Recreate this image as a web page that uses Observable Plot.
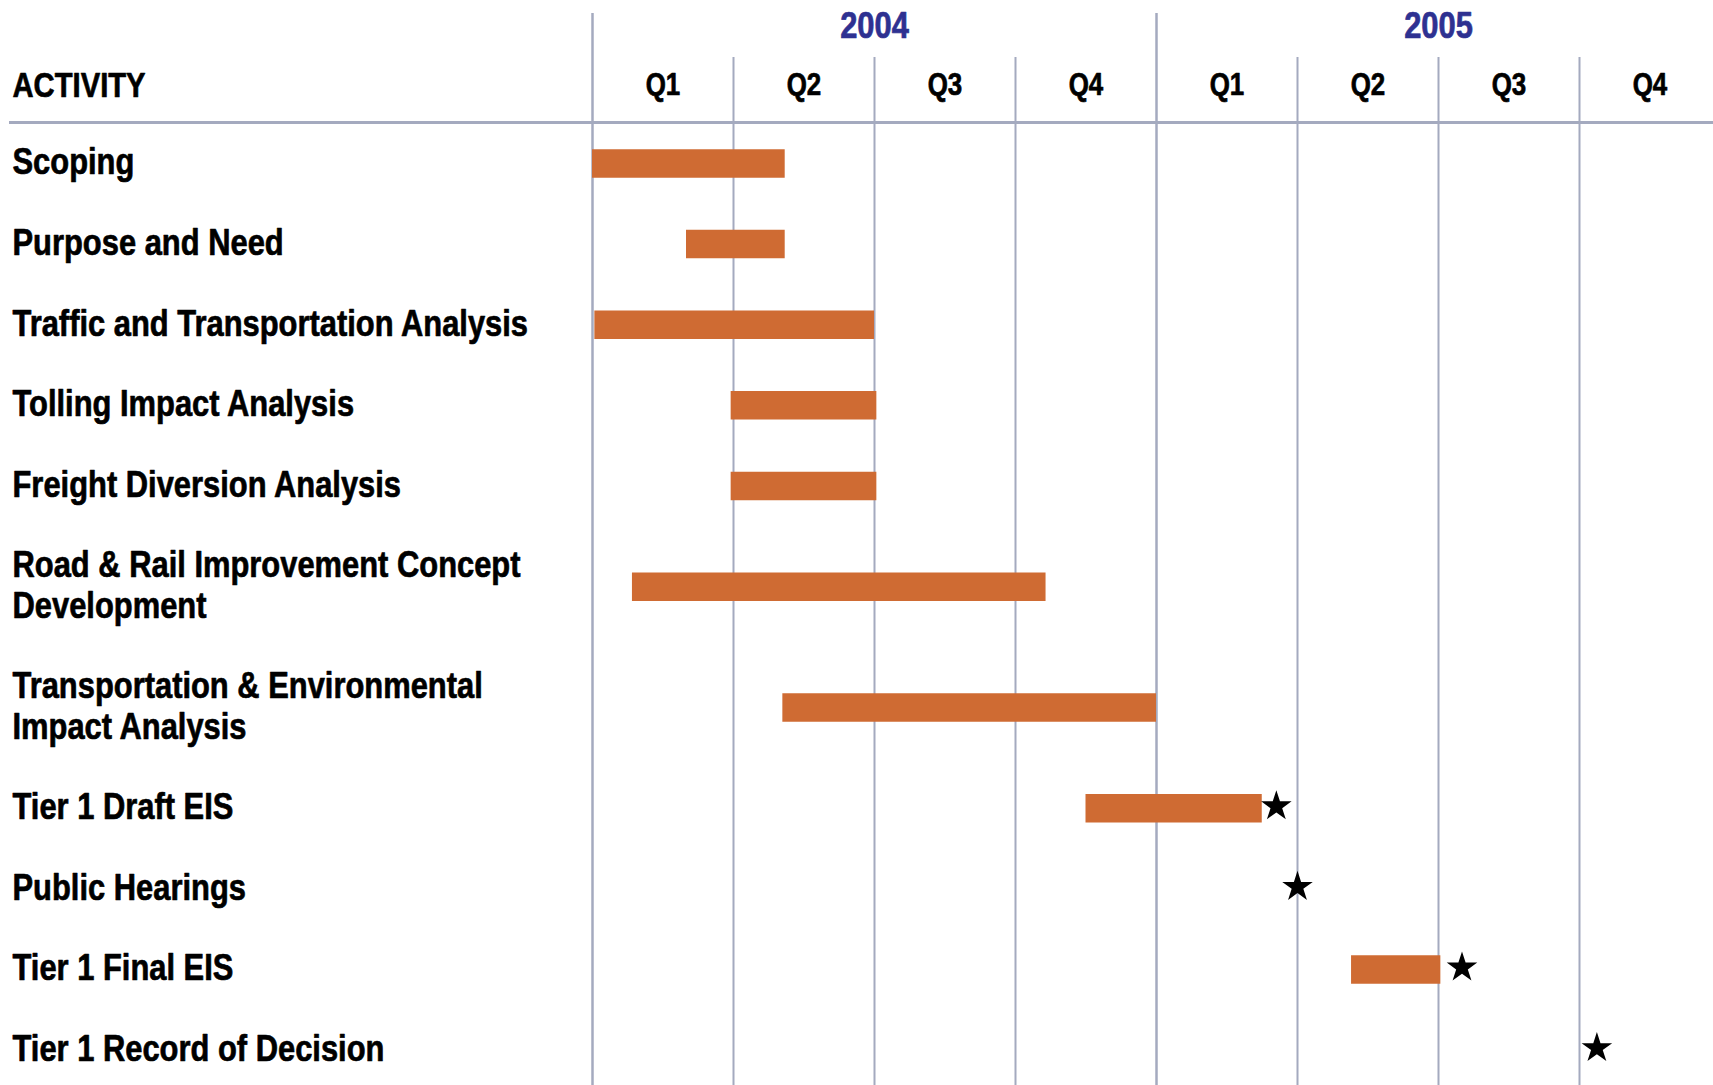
<!DOCTYPE html>
<html>
<head>
<meta charset="utf-8">
<script src="https://cdn.jsdelivr.net/npm/d3@7"></script>
<script src="https://cdn.jsdelivr.net/npm/@observablehq/plot@0.6"></script>
<style>
  html, body { margin: 0; padding: 0; background: #fff; }
  #chart svg { display: block; }
</style>
</head>
<body>
<div id="chart"></div>
<script>
// ---- data (months counted from January 2004) ----
const activities = [
  "Scoping",
  "Purpose and Need",
  "Traffic and Transportation Analysis",
  "Tolling Impact Analysis",
  "Freight Diversion Analysis",
  "Road & Rail Improvement Concept\nDevelopment",
  "Transportation & Environmental\nImpact Analysis",
  "Tier 1 Draft EIS",
  "Public Hearings",
  "Tier 1 Final EIS",
  "Tier 1 Record of Decision"
];
const startMonth     = [0,   2,   0.05, 2.95, 2.95, 0.85, 4.05, 10.5,  null, 16.15, null];
const endMonth       = [4.1, 4.1, 6,    6.05, 6.05, 9.65, 12,   14.25, null, 18.05, null];
const milestoneMonth = [null, null, null, null, null, null, null, 14.55, 15, 18.5, 21.37];
const years = ["2004", "2005"];
const quarterLabels = ["Q1", "Q2", "Q3", "Q4"];
const headerLabel = "ACTIVITY";

// ---- layout of rows derived from the number of label lines ----
let cursor = 0;
const rows = activities.map((label, i) => {
  const lines = label.split("\n").length;
  const row = {label, start: startMonth[i], end: endMonth[i], milestone: milestoneMonth[i], y: cursor + (lines - 1) * 0.25};
  cursor += 1 + (lines - 1) * 0.5;
  return row;
});
const lastRow = rows[rows.length - 1].y;

const quarters = years.flatMap((yr, yi) => quarterLabels.map((q, qi) => ({label: q, start: yi * 12 + qi * 3, mid: yi * 12 + qi * 3 + 1.5})));
const yearMarks = years.map((yr, yi) => ({label: yr, start: yi * 12, mid: yi * 12 + 6}));
yearMarks.push({label: "", start: years.length * 12, mid: null});

const FONT = "'Liberation Sans', Arial, Helvetica, sans-serif";
const CONDENSE = 0.835; // narrow (condensed) rendition of the bold sans
const GRID = "#a4aabf";
const BAR = "#cf6b33";
const NAVY = "#2e3191";

const chart = Plot.plot({
  width: 1713,
  height: 1085,
  marginTop: 122,
  marginBottom: 0,
  marginLeft: 592,
  marginRight: 0,
  x: {domain: [0, 24], range: [592, 1720], axis: null},
  y: {domain: [0, lastRow], range: [161, 161 + lastRow * 80.6], axis: null},
  style: {fontFamily: FONT, background: "#fff", color: "#000"},
  marks: [
    Plot.ruleX(quarters.filter(q => q.start % 12 !== 0), {x: "start", stroke: GRID, strokeWidth: 2, insetTop: -65}),
    Plot.ruleX(yearMarks, {x: "start", stroke: GRID, strokeWidth: 2.5, insetTop: -109}),
    Plot.frame({anchor: "top", stroke: GRID, strokeWidth: 3, insetLeft: -582}),
    Plot.text(yearMarks.filter(d => d.label), {x: "mid", text: "label", frameAnchor: "top", lineAnchor: "middle", textAnchor: "middle", dy: -96.5, fontSize: 37, fontWeight: "bold", fill: NAVY, stroke: NAVY, strokeWidth: 0.7}),
    Plot.text(quarters, {x: "mid", text: "label", frameAnchor: "top", lineAnchor: "middle", textAnchor: "middle", dy: -37, fontSize: 31, fontWeight: "bold", fill: "#000", stroke: "#000", strokeWidth: 0.7}),
    Plot.text([headerLabel], {text: d => d, frameAnchor: "top-left", lineAnchor: "middle", textAnchor: "start", dx: -580, dy: -36.6, fontSize: 35, fontWeight: "bold", fill: "#000", stroke: "#000", strokeWidth: 0.7}),
    Plot.text(rows, {y: "y", text: "label", frameAnchor: "left", lineAnchor: "middle", textAnchor: "start", dx: -580, fontSize: 37, lineHeight: 1.088, fontWeight: "bold", fill: "#000", stroke: "#000", strokeWidth: 0.7}),
    Plot.ruleY(rows.filter(d => d.start != null), {x1: "start", x2: "end", y: "y", dy: 2, stroke: BAR, strokeWidth: 28.5}),
    Plot.dot(rows.filter(d => d.milestone != null), {x: "milestone", y: "y", symbol: "star", r: 9.6, fill: "#000", stroke: null})
  ]
});

// condense all text horizontally around its anchor point (x/y attributes are em offsets along y only)
d3.select(chart).selectAll("text").each(function () {
  const t = this.getAttribute("transform") || "";
  this.setAttribute("transform", `${t} scale(${CONDENSE},1)`);
});

document.getElementById("chart").append(chart);
</script>
</body>
</html>
